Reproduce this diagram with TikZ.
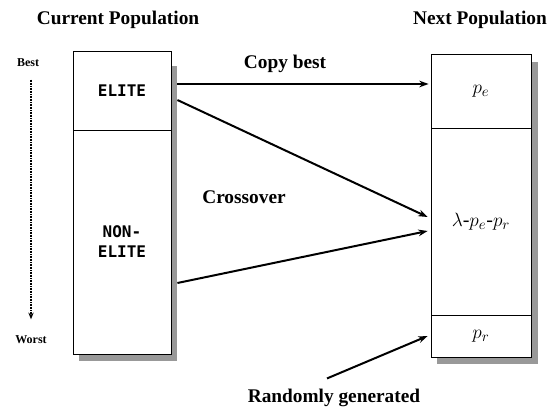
\documentclass[tikz,border=0pt]{standalone}
\usepackage{fontspec}
\setmainfont{Liberation Serif}
\newfontfamily\cellfont{DejaVu Sans Mono}
\usetikzlibrary{arrows.meta, calc, positioning}

\begin{document}
\begin{tikzpicture}[x=0.75pt, y=-0.75pt,
    cell/.style={draw, line width=0.6pt, fill=white, inner sep=0pt, font=\cellfont\bfseries\fontsize{12}{15}\selectfont, align=center},
    lcell/.style={cell, minimum width=73.5pt},
    rcell/.style={cell, minimum width=75pt, font=\fontsize{15}{17}\selectfont},
    shade/.style={fill=black!40},
    title/.style={font=\bfseries\fontsize{14.5}{17}\selectfont},
    rank/.style={font=\bfseries\fontsize{9}{11}\selectfont},
    flow/.style={line width=1.5pt, -{Stealth[length=7pt, width=5pt]}}]
  \useasboundingbox (0,0) rectangle (558,410);

  % schatten
  \fill[shade] (79,66) rectangle (177,361);
  \fill[shade] (437,62) rectangle (538,364);

  % huidige populatie
  \node[lcell, minimum height=59.25pt] (elite) at (122,90.5) {ELITE};
  \node[lcell, minimum height=168pt] (nonelite) at (122,242) {NON-\\ELITE};

  % volgende populatie
  \node[rcell, minimum height=55.5pt] (pe) at (481,91) {$p_e$};
  \node[rcell, minimum height=140.25pt] (mid) at (481,221.5) {$\lambda$-$p_e$-$p_r$};
  \node[rcell, minimum height=31.5pt] (pr) at (481,336) {$p_r$};

  % titels
  \node[title] (curtitle) at (118,20) {Current Population};
  \node[title] (nexttitle) at (480,20) {Next Population};
  \node[rank] (best) at (28,63) {Best};
  \node[rank] (worst) at (31,340) {Worst};
  \draw[dash pattern=on 0.6pt off 0.6pt, line width=0.9pt, -{Stealth[length=5pt, width=4pt]}]
    ($(best.south)+(3,8)$) -- ($(worst.north)+(0,-12)$);

  % labels
  \node[title] (copy) at (285,64) {Copy best};
  \node[title] (cross) at (244,197) {Crossover};
  \node[title] (rand) at (334,398) {Randomly generated};

  % pijlen
  \draw[flow] ($(elite.east)+(6,-6.5)$) -- ($(pe.west)+(-2,-7)$);
  \draw[flow] ($(elite.east)+(6,9.5)$) -- ($(mid.west)+(-3,-4.5)$);
  \draw[flow] ($(nonelite.east)+(6,41)$) -- ($(mid.west)+(-3,9.5)$);
  \draw[flow] ($(rand.north)+(-7,-6)$) -- ($(pr.west)+(-3,0)$);
\end{tikzpicture}
\end{document}
